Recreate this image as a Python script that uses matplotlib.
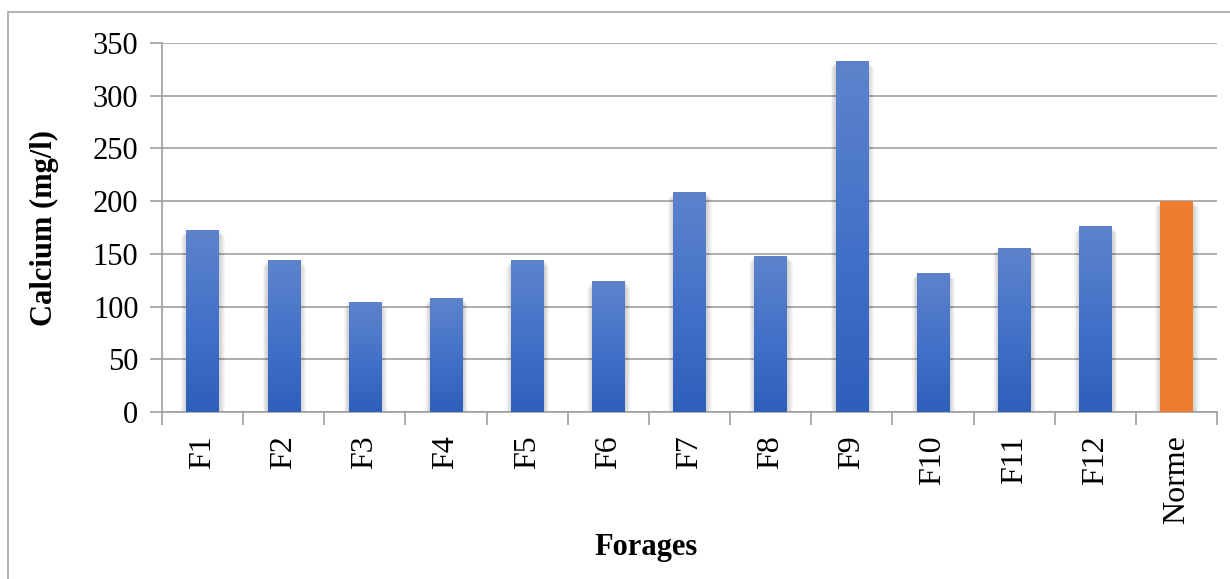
import numpy as np
import matplotlib.pyplot as plt
from matplotlib.patches import Rectangle
from matplotlib.colors import LinearSegmentedColormap

plt.rcParams['font.family'] = ['Liberation Serif', 'DejaVu Serif']

# calcium content per borehole (mg/l), last one is the standard
forages = ['F1', 'F2', 'F3', 'F4', 'F5', 'F6', 'F7', 'F8', 'F9', 'F10', 'F11', 'F12', 'Norme']
calcium = [173, 144, 104, 108, 144, 124, 209, 148, 333, 132, 156, 176, 200]

fig = plt.figure(figsize=(12.3, 5.79), dpi=100)
ax = fig.add_axes([162 / 1230, 1 - 412 / 579, (1217 - 162) / 1230, (412 - 43) / 579])

# frame around the whole chart
fig.patches.append(Rectangle((8 / 1230, -0.01), 1.0, 1 - 12 / 579 + 0.01,
                             transform=fig.transFigure, fill=False,
                             edgecolor='#a6a6a6', lw=1.2))

blue = LinearSegmentedColormap.from_list('b', ['#2e5fbb', '#4472c9', '#5e83cc'])
orange = '#ed7d31'
w = 0.4
x = np.arange(len(forages))

for i, v in zip(x, calcium):
    # soft shadow on the sides of each bar
    for k in range(1, 7):
        ax.add_patch(Rectangle((i - w / 2 + 0.006 - k * 0.011, 0), w + k * 0.022, v - k * 1.0,
                               facecolor='black', alpha=0.03, lw=0, zorder=2))
    if forages[i] == 'Norme':
        ax.bar(i, v, width=w, color=orange, zorder=3)
    else:
        bar = ax.bar(i, v, width=w, color='none', zorder=3)[0]
        grad = np.linspace(0, 1, 256).reshape(-1, 1)
        im = ax.imshow(grad, cmap=blue, aspect='auto', origin='lower',
                       extent=(i - w / 2, i + w / 2, 0, v), zorder=3)
        im.set_clip_path(bar)

ax.set_xlim(-0.5, len(forages) - 0.5)
ax.set_ylim(0, 350)
ax.set_yticks(np.arange(0, 351, 50))
ax.grid(axis='y', color='#a0a0a0', lw=1.2, zorder=1)
ax.set_axisbelow(True)

ax.set_xticks(x)
ax.set_xticklabels(forages, rotation=90, fontsize=23)
ax.set_xticks(np.arange(-0.5, len(forages), 1), minor=True)
ax.tick_params(axis='x', which='major', length=0, pad=17)
ax.tick_params(axis='x', which='minor', length=9, color='#a0a0a0', width=1.2)
ax.tick_params(axis='y', length=9, color='#a0a0a0', width=1.2, labelsize=22, pad=8)

for s in ['top', 'right']:
    ax.spines[s].set_visible(False)
for s in ['left', 'bottom']:
    ax.spines[s].set_color('#a0a0a0')
    ax.spines[s].set_linewidth(1.2)

ax.set_ylabel('Calcium (mg/l)', fontsize=22, fontweight='bold', labelpad=24)
fig.text(646 / 1230, 1 - 548 / 579, 'Forages', fontsize=22, fontweight='bold',
         ha='center', va='center')

fig.savefig('out.png', dpi=100)
